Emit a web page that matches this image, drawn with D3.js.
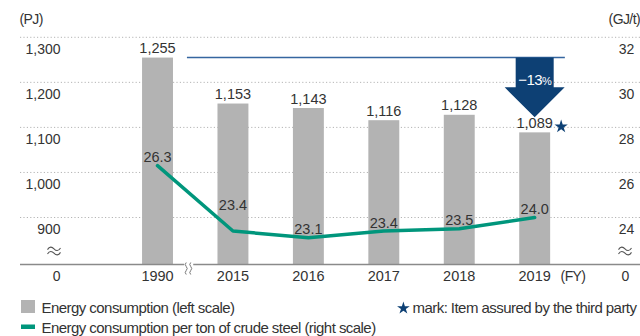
<!DOCTYPE html>
<html>
<head>
<meta charset="utf-8">
<script src="https://cdn.jsdelivr.net/npm/d3@7"></script>
<style>
  html, body { margin: 0; padding: 0; background: #fff; }
  svg { display: block; font-family: "Liberation Sans", Arial, sans-serif; }
</style>
</head>
<body>
<svg id="chart" width="640" height="336"></svg>
<script>
// Fiscal years and series
const years = ["1990", "2015", "2016", "2017", "2018", "2019"];
const energyPJ = [1255, 1153, 1143, 1116, 1128, 1089];          // left scale
const energyPerTon = [26.3, 23.4, 23.1, 23.4, 23.5, 24.0];       // right scale
const leftTicks = [900, 1000, 1100, 1200, 1300];
const rightTicks = [24, 26, 28, 30, 32];
const assuredYear = "2019";

const svg = d3.select("#chart");

const gridLeft = 20, gridRight = 640;
const baseY = 264.5;
const barColor = "#b3b3b3";
const lineColor = "#00967c";
const navy = "#0d4074";
const textColor = "#333";

const x = d3.scalePoint().domain(years).range([119.8, 572.4]).padding(0.5);
const step = x.step();
const barW = step * 0.41;
const yL = d3.scaleLinear().domain([900, 1300]).range([217.5, 37.3]);
const yR = d3.scaleLinear().domain([24, 32]).range([217.5, 37.3]);

const starPath = size => d3.symbol().type(d3.symbolStar).size(size)();

// Dotted gridlines
svg.append("g").selectAll("line").data(leftTicks).join("line")
  .attr("x1", gridLeft).attr("x2", gridRight)
  .attr("y1", d => yL(d)).attr("y2", d => yL(d))
  .attr("stroke", "#b5b5b5").attr("stroke-width", 1)
  .attr("stroke-dasharray", "1.2,2.2");

// Left tick labels (below each gridline)
svg.append("g").selectAll("text").data(leftTicks).join("text")
  .attr("x", 60.5).attr("y", d => yL(d) + 16.5)
  .attr("text-anchor", "end").attr("font-size", 14).attr("fill", textColor)
  .text(d => d3.format(",")(d));

// Right tick labels
svg.append("g").selectAll("text").data(rightTicks).join("text")
  .attr("x", 626.5).attr("y", d => yR(d) + 16.5)
  .attr("text-anchor", "middle").attr("font-size", 14).attr("fill", textColor)
  .text(d => d);

// Units
svg.append("text").attr("x", 19.5).attr("y", 24).attr("font-size", 14)
  .attr("letter-spacing", -0.6).attr("fill", textColor).text("(PJ)");
svg.append("text").attr("x", 640).attr("y", 24).attr("font-size", 14)
  .attr("letter-spacing", -0.6).attr("text-anchor", "end").attr("fill", textColor).text("(GJ/t)");

// Bars
svg.append("g").selectAll("rect").data(years).join("rect")
  .attr("x", d => x(d) - barW / 2).attr("width", barW)
  .attr("y", (d, i) => yL(energyPJ[i]))
  .attr("height", (d, i) => baseY - yL(energyPJ[i]))
  .attr("fill", barColor);

// Bar value labels
svg.append("g").selectAll("text").data(years).join("text")
  .attr("x", d => x(d)).attr("y", (d, i) => yL(energyPJ[i]) - 4.5)
  .attr("text-anchor", "middle").attr("font-size", 14.5).attr("fill", textColor)
  .text((d, i) => d3.format(",")(energyPJ[i]));

// Star on the assured value
const lastIdx = years.indexOf(assuredYear);
svg.append("path").attr("d", starPath(55))
  .attr("transform", `translate(${x(assuredYear) + barW / 2 + 11},${yL(energyPJ[lastIdx]) - 5.8})`)
  .attr("fill", navy);

// Axis baseline
svg.append("line").attr("x1", gridLeft).attr("x2", gridRight)
  .attr("y1", baseY).attr("y2", baseY)
  .attr("stroke", "#8a8a8a").attr("stroke-width", 1.5);

// Axis break between 1990 and 2015
const bx = (x("1990") + x("2015")) / 2 - 7;
svg.append("rect").attr("x", bx - 4).attr("y", baseY - 2).attr("width", 9).attr("height", 4).attr("fill", "#fff");
[bx - 2, bx + 2.5].forEach(px => {
  svg.append("path")
    .attr("d", `M${px},${baseY - 2} q-2,2 0,4 q2,2 0,4 q-2,2 0,4`)
    .attr("fill", "none").attr("stroke", "#777").attr("stroke-width", 1);
});

// Zero labels
svg.append("text").attr("x", 60.5).attr("y", 281).attr("text-anchor", "end")
  .attr("font-size", 14).attr("fill", textColor).text("0");
svg.append("text").attr("x", 625.5).attr("y", 281).attr("text-anchor", "middle")
  .attr("font-size", 14).attr("fill", textColor).text("0");

// Scale break symbols (double wave) on both value axes
const waves = (cx, cy) => {
  const p = d3.path();
  [-2.2, 2.2].forEach(dy => {
    const y0 = cy + dy;
    p.moveTo(cx - 6.5, y0 + 0.8);
    p.bezierCurveTo(cx - 4.5, y0 - 2.6, cx - 2, y0 - 2.2, cx, y0);
    p.bezierCurveTo(cx + 2, y0 + 2.2, cx + 4.5, y0 + 2.6, cx + 6.5, y0 - 0.8);
  });
  return p.toString();
};
[[54, 251], [625, 251]].forEach(([cx, cy]) => {
  svg.append("path").attr("d", waves(cx, cy))
    .attr("fill", "none").attr("stroke", "#555").attr("stroke-width", 1.1);
});

// X tick labels
svg.append("g").selectAll("text").data(years).join("text")
  .attr("x", d => x(d)).attr("y", 281)
  .attr("text-anchor", "middle").attr("font-size", 14.5).attr("fill", textColor)
  .text(d => d);
svg.append("text").attr("x", 573).attr("y", 281).attr("text-anchor", "middle")
  .attr("font-size", 14).attr("letter-spacing", -0.6).attr("fill", textColor).text("(FY)");

// Reference level at 1990 and reduction arrow
const refY = yL(energyPJ[0]);
svg.append("line")
  .attr("x1", x("1990") + step * 0.39).attr("x2", x(assuredYear) + step * 0.4)
  .attr("y1", refY).attr("y2", refY)
  .attr("stroke", "#3566a0").attr("stroke-width", 1.5);

const ax = x(assuredYear);
const tipY = yL(energyPJ[lastIdx]) - 15;
const headY = tipY - 30;
const arrow = d3.path();
arrow.moveTo(ax - 19, refY);
arrow.lineTo(ax + 19, refY);
arrow.lineTo(ax + 19, headY);
arrow.lineTo(ax + 30, headY);
arrow.lineTo(ax, tipY);
arrow.lineTo(ax - 30, headY);
arrow.lineTo(ax - 19, headY);
arrow.closePath();
svg.append("path").attr("d", arrow.toString()).attr("fill", navy);

const pct = Math.round((energyPJ[lastIdx] / energyPJ[0] - 1) * 100);
const pctText = svg.append("text").attr("x", ax).attr("y", 84.5)
  .attr("text-anchor", "middle").attr("fill", "#fff").attr("letter-spacing", -0.6);
pctText.append("tspan").attr("font-size", 15).text("−" + Math.abs(pct));
pctText.append("tspan").attr("font-size", 11).text("%");

// Energy per ton line
const line = d3.line()
  .x((d, i) => x(years[i]))
  .y(d => yR(d));
svg.append("path").datum(energyPerTon)
  .attr("d", line)
  .attr("fill", "none").attr("stroke", lineColor).attr("stroke-width", 3.5)
  .attr("stroke-linejoin", "round").attr("stroke-linecap", "round");

// Line value labels; lifted higher where the line drops steeply into the point
svg.append("g").selectAll("text").data(energyPerTon).join("text")
  .attr("x", (d, i) => x(years[i]))
  .attr("y", (d, i) => yR(d) - (i > 0 && energyPerTon[i - 1] - d > 1 ? 21 : 3.5))
  .attr("text-anchor", "middle").attr("font-size", 14.5).attr("fill", textColor)
  .text(d => d3.format(".1f")(d));

// Legend
const legend = svg.append("g").attr("font-size", 15).attr("letter-spacing", -0.55).attr("fill", textColor);
legend.append("rect").attr("x", 21).attr("y", 300).attr("width", 14).attr("height", 13).attr("fill", barColor);
legend.append("text").attr("x", 41.5).attr("y", 312.7).text("Energy consumption (left scale)");
legend.append("rect").attr("x", 21).attr("y", 324.5).attr("width", 14).attr("height", 4.5).attr("fill", lineColor);
legend.append("text").attr("x", 41.5).attr("y", 332.7).text("Energy consumption per ton of crude steel (right scale)");
legend.append("path").attr("d", starPath(50))
  .attr("transform", "translate(403.4,308.2)").attr("fill", navy);
legend.append("text").attr("x", 412.5).attr("y", 312.7).text("mark: Item assured by the third party");
</script>
</body>
</html>
